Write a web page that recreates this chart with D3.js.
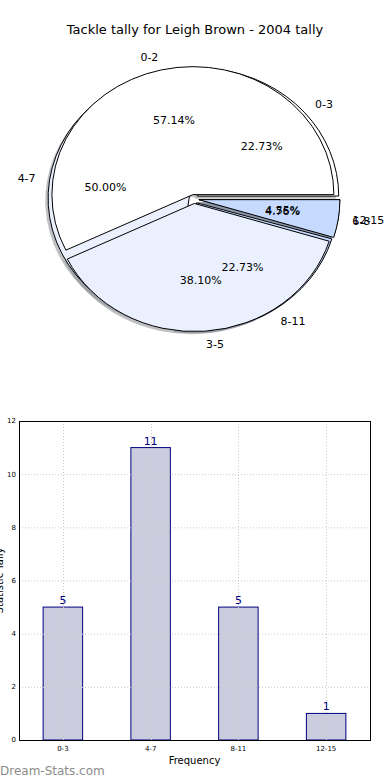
<!DOCTYPE html>
<html>
<head>
<meta charset="utf-8">
<script src="https://cdn.jsdelivr.net/npm/d3@7"></script>
<style>
  body { margin: 0; background: #fff; }
  svg { display: block; font-family: "DejaVu Sans", sans-serif; }
</style>
</head>
<body>
<svg id="chart" width="390" height="780"></svg>
<script>
// pie A (drawn on top)
const pieALabels = ['0-2', '3-5', '6-8']
const pieAValues = [12, 8, 1]
// pie B (underneath)
const pieBLabels = ['0-3', '4-7', '8-11', '12-15']
const pieBValues = [5, 11, 5, 1]
// bar chart
const barCats = ['0-3', '4-7', '8-11', '12-15']
const barValues = [5, 11, 5, 1]
const yTicks = [0, 2, 4, 6, 8, 10, 12]

const svg = d3.select('#chart')

svg.append('text')
    .attr('x', 195).attr('y', 34)
    .attr('text-anchor', 'middle')
    .style('font-size', '13px')
    .text('Tackle tally for Leigh Brown - 2004 tally')

//---- pie ----
const cx = 194, cy = 199, rx = 141, ry = 128
const explode = 0.035
const colors = ['#ffffff', '#eaf0fe', '#c6d9fe', '#9ebefc']

// matplotlib style: start at east, counterclockwise
const pie = d3.pie().sort(null)
    .startAngle(Math.PI / 2)
    .endAngle(Math.PI / 2 - 2 * Math.PI)
const arc = d3.arc().innerRadius(0).outerRadius(1)

function wedges(labels, values) {
    return pie(values).map(function (d, i) {
        let mid = (d.startAngle + d.endAngle) / 2
        return {
            d: d, label: labels[i], color: colors[i],
            ux: Math.sin(mid), uy: -Math.cos(mid),
            ox: explode * rx * Math.sin(mid), oy: -explode * ry * Math.cos(mid),
            pct: d3.format('.2f')(100 * d.value / d3.sum(values)) + '%'
        }
    })
}
const wa = wedges(pieALabels, pieAValues)
const wb = wedges(pieBLabels, pieBValues)

const pieG = svg.append('g')

// shadows (below every wedge)
wb.concat(wa).forEach(function (w) {
    pieG.append('path')
        .attr('d', arc(w.d))
        .attr('transform', 'translate(' + (cx + w.ox - 0.02 * rx) + ',' + (cy + w.oy + 0.02 * ry) + ') scale(' + rx + ',' + ry + ')')
        .style('fill', d3.color(w.color).darker(1.7))
        .style('fill-opacity', 0.5)
})

// wedges, pie B first then pie A
wb.concat(wa).forEach(function (w) {
    pieG.append('path')
        .attr('d', arc(w.d))
        .attr('transform', 'translate(' + (cx + w.ox) + ',' + (cy + w.oy) + ') scale(' + rx + ',' + ry + ')')
        .style('fill', w.color)
        .style('stroke', '#000')
        .style('stroke-width', 1)
        .attr('vector-effect', 'non-scaling-stroke')
})

// texts
wb.concat(wa).forEach(function (w) {
    let x0 = cx + w.ox, y0 = cy + w.oy
    pieG.append('text')
        .attr('x', x0 + 1.1 * rx * w.ux)
        .attr('y', y0 + 1.1 * ry * w.uy)
        .attr('dy', '0.35em')
        .attr('text-anchor', w.ux < 0 ? 'end' : 'start')
        .style('font-size', '11px')
        .text(w.label)
    pieG.append('text')
        .attr('x', x0 + 0.6 * rx * w.ux)
        .attr('y', y0 + 0.6 * ry * w.uy)
        .attr('dy', '0.35em')
        .attr('text-anchor', 'middle')
        .style('font-size', '11px')
        .text(w.pct)
})

//---- bars ----
const plotL = 19, plotR = 370, plotT = 421, plotB = 740
const x = d3.scaleBand().domain(barCats).range([plotL, plotR])
    .paddingInner(0.55).paddingOuter(0.275)
const y = d3.scaleLinear().domain([0, 12]).range([plotB, plotT])

const barG = svg.append('g')

barG.selectAll('.bar')
    .data(barValues)
    .enter()
    .append('rect')
    .attr('x', function (d, i) { return x(barCats[i]) })
    .attr('y', function (d) { return y(d) })
    .attr('width', x.bandwidth())
    .attr('height', function (d) { return plotB - y(d) })
    .style('fill', '#ccccdf')
    .style('stroke', '#000080')
    .style('stroke-width', 1)

// grid on top of bars
yTicks.slice(1, -1).forEach(function (t) {
    barG.append('line')
        .attr('x1', plotL).attr('x2', plotR)
        .attr('y1', y(t) + 0.5).attr('y2', y(t) + 0.5)
        .style('stroke', '#c8c8c8').style('stroke-dasharray', '1,2')
})
barCats.forEach(function (c) {
    let xc = Math.round(x(c) + x.bandwidth() / 2) + 0.5
    barG.append('line')
        .attr('x1', xc).attr('x2', xc)
        .attr('y1', plotT).attr('y2', plotB)
        .style('stroke', '#c8c8c8').style('stroke-dasharray', '1,2')
})

barG.append('rect')
    .attr('x', plotL + 0.5).attr('y', plotT + 0.5)
    .attr('width', plotR - plotL).attr('height', plotB - plotT)
    .style('fill', 'none').style('stroke', '#000').style('stroke-width', 1)

// y axis labels
yTicks.forEach(function (t) {
    barG.append('text')
        .attr('x', 16).attr('y', y(t))
        .attr('dy', '0.35em')
        .attr('text-anchor', 'end')
        .style('font-size', '7px')
        .text(t)
})
// x axis labels
barCats.forEach(function (c) {
    barG.append('text')
        .attr('x', x(c) + x.bandwidth() / 2).attr('y', 751)
        .attr('text-anchor', 'middle')
        .style('font-size', '7px')
        .text(c)
})

// value labels
barValues.forEach(function (v, i) {
    barG.append('text')
        .attr('x', x(barCats[i]) + x.bandwidth() / 2)
        .attr('y', y(v) - 3)
        .attr('text-anchor', 'middle')
        .style('font-size', '11px')
        .style('fill', '#000080')
        .text(v)
})

svg.append('text')
    .attr('x', (plotL + plotR) / 2).attr('y', 764)
    .attr('text-anchor', 'middle')
    .style('font-size', '10px')
    .text('Frequency')

svg.append('text')
    .attr('transform', 'translate(3,' + ((plotT + plotB) / 2) + ') rotate(-90)')
    .attr('text-anchor', 'middle')
    .style('font-size', '10px')
    .text('Statistic Tally')

svg.append('text')
    .attr('x', 0).attr('y', 775)
    .style('font-size', '12px')
    .style('fill', '#8c8c8c')
    .text('Dream-Stats.com')
</script>
</body>
</html>
